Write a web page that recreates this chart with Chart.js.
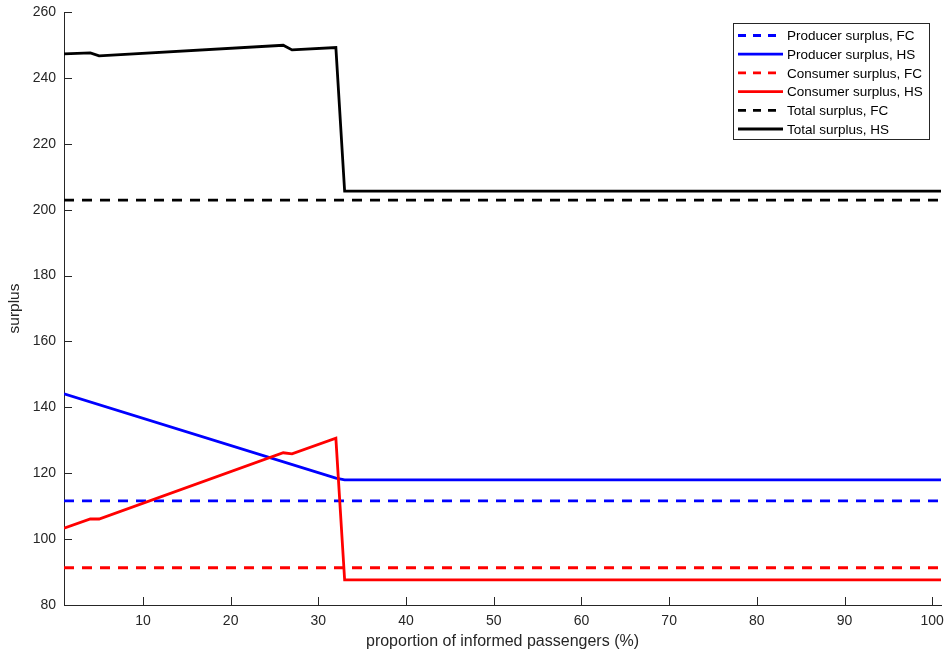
<!DOCTYPE html>
<html>
<head>
<meta charset="utf-8">
<script src="https://cdn.jsdelivr.net/npm/chart.js@4/dist/chart.umd.min.js"></script>
<style>
  html, body { margin: 0; padding: 0; background: #fff; }
  #wrap { width: 945px; height: 658px; }
</style>
</head>
<body>
<div id="wrap"><canvas id="grafico-excedente"></canvas></div>
<script>
// Proporción de pasajeros informados (%) en los puntos de quiebre de cada curva
const xProductorHS = [1, 32, 33, 101];
const productorHS  = [144.1, 118.5, 118.0, 118.0];

const xConsumidorHS = [1, 4, 5, 26, 27, 32, 33, 101];
const consumidorHS  = [103.3, 106.1, 106.1, 126.2, 125.9, 130.6, 87.6, 87.6];

const xTotalHS = [1, 4, 5, 26, 27, 32, 33, 101];
const totalHS  = [247.3, 247.6, 246.7, 249.9, 248.5, 249.2, 205.6, 205.6];

// Escenario FC: valores constantes
const xFC = [1, 101];
const productorFC  = [111.6, 111.6];
const consumidorFC = [91.3, 91.3];
const totalFC      = [202.9, 202.9];

const etiquetas = [
    'Producer surplus, FC', 'Producer surplus, HS',
    'Consumer surplus, FC', 'Consumer surplus, HS',
    'Total surplus, FC', 'Total surplus, HS'
];

const xTicks = [10, 20, 30, 40, 50, 60, 70, 80, 90, 100];
const yTicks = [80, 100, 120, 140, 160, 180, 200, 220, 240, 260];

const GRIS = '#262626';
const FUENTE = 'Liberation Sans, Arial, sans-serif';

function puntos(xs, ys) {
    return xs.map((x, i) => ({ x: x, y: ys[i] }));
}

function serie(label, xs, ys, color, discontinua, i) {
    return {
        label: label,
        data: puntos(xs, ys),
        borderColor: color,
        backgroundColor: color,
        borderWidth: 2.8,
        borderDash: discontinua ? [10, 8] : [],
        pointRadius: 0,
        tension: 0,
        fill: false,
        order: 6 - i   // las últimas series quedan encima
    };
}

// Marcas de los ejes hacia dentro y leyenda con recuadro
const ejesYLeyenda = {
    id: 'ejesYLeyenda',
    afterDatasetsDraw(chart) {
        const ctx = chart.ctx;
        const xs = chart.scales.x, ys = chart.scales.y;
        const area = chart.chartArea;
        ctx.save();
        ctx.strokeStyle = GRIS;
        ctx.lineWidth = 1;
        ctx.beginPath();
        xTicks.forEach(v => {
            const px = Math.round(xs.getPixelForValue(v)) + 0.5;
            ctx.moveTo(px, area.bottom);
            ctx.lineTo(px, area.bottom - 8);
        });
        yTicks.forEach(v => {
            const py = Math.round(ys.getPixelForValue(v)) + 0.5;
            ctx.moveTo(area.left, py);
            ctx.lineTo(area.left + 8, py);
        });
        ctx.stroke();

        // leyenda
        const x0 = 733.5, y0 = 23.5, ancho = 196, alto = 116;
        ctx.fillStyle = '#fff';
        ctx.fillRect(x0, y0, ancho, alto);
        ctx.strokeStyle = GRIS;
        ctx.strokeRect(x0, y0, ancho, alto);
        ctx.font = '13.5px ' + FUENTE;
        ctx.textBaseline = 'middle';
        chart.data.datasets.forEach((ds, i) => {
            const y = 35.5 + i * 18.7;
            ctx.strokeStyle = ds.borderColor;
            ctx.lineWidth = 2.8;
            ctx.setLineDash(ds.borderDash.length ? [8, 7] : []);
            ctx.beginPath();
            ctx.moveTo(738, y);
            ctx.lineTo(783, y);
            ctx.stroke();
            ctx.setLineDash([]);
            ctx.fillStyle = '#000';
            ctx.fillText(ds.label, 787, y + 1);
        });
        ctx.restore();
    }
};

const ctx = document.getElementById('grafico-excedente').getContext('2d');
new Chart(ctx, {
    type: 'line',
    data: {
        datasets: [
            serie(etiquetas[0], xFC, productorFC, '#0000ff', true, 0),
            serie(etiquetas[1], xProductorHS, productorHS, '#0000ff', false, 1),
            serie(etiquetas[2], xFC, consumidorFC, '#ff0000', true, 2),
            serie(etiquetas[3], xConsumidorHS, consumidorHS, '#ff0000', false, 3),
            serie(etiquetas[4], xFC, totalFC, '#000000', true, 4),
            serie(etiquetas[5], xTotalHS, totalHS, '#000000', false, 5)
        ]
    },
    options: {
        responsive: true,
        maintainAspectRatio: false,
        animation: false,
        layout: { padding: { top: 12, right: 4, left: 5, bottom: 7 } },
        plugins: {
            legend: { display: false },
            tooltip: { enabled: false }
        },
        scales: {
            x: {
                type: 'linear',
                min: 1,
                max: 101,
                afterBuildTicks: s => { s.ticks = xTicks.map(v => ({ value: v })); },
                afterFit: s => { s.height = 46; s.paddingLeft = 0; s.paddingRight = 0; },
                grid: { display: false, drawTicks: false },
                border: { display: true, color: GRIS, width: 1 },
                ticks: {
                    color: GRIS,
                    padding: 8,
                    maxRotation: 0,
                    font: { family: FUENTE, size: 14 }
                },
                title: {
                    display: true,
                    text: 'proportion of informed passengers (%)',
                    color: GRIS,
                    padding: { top: 2, bottom: 0 },
                    font: { family: FUENTE, size: 16 }
                }
            },
            y: {
                min: 80,
                max: 260,
                afterBuildTicks: s => { s.ticks = yTicks.map(v => ({ value: v })); },
                afterFit: s => { s.width = 59; s.paddingTop = 0; s.paddingBottom = 0; },
                grid: { display: false, drawTicks: false },
                border: { display: true, color: GRIS, width: 1 },
                ticks: {
                    color: GRIS,
                    padding: 8,
                    font: { family: FUENTE, size: 14 }
                },
                title: {
                    display: true,
                    text: 'surplus',
                    color: GRIS,
                    padding: { top: 0, bottom: 6 },
                    font: { family: FUENTE, size: 15.5 }
                }
            }
        }
    },
    plugins: [ejesYLeyenda]
});
</script>
</body>
</html>
